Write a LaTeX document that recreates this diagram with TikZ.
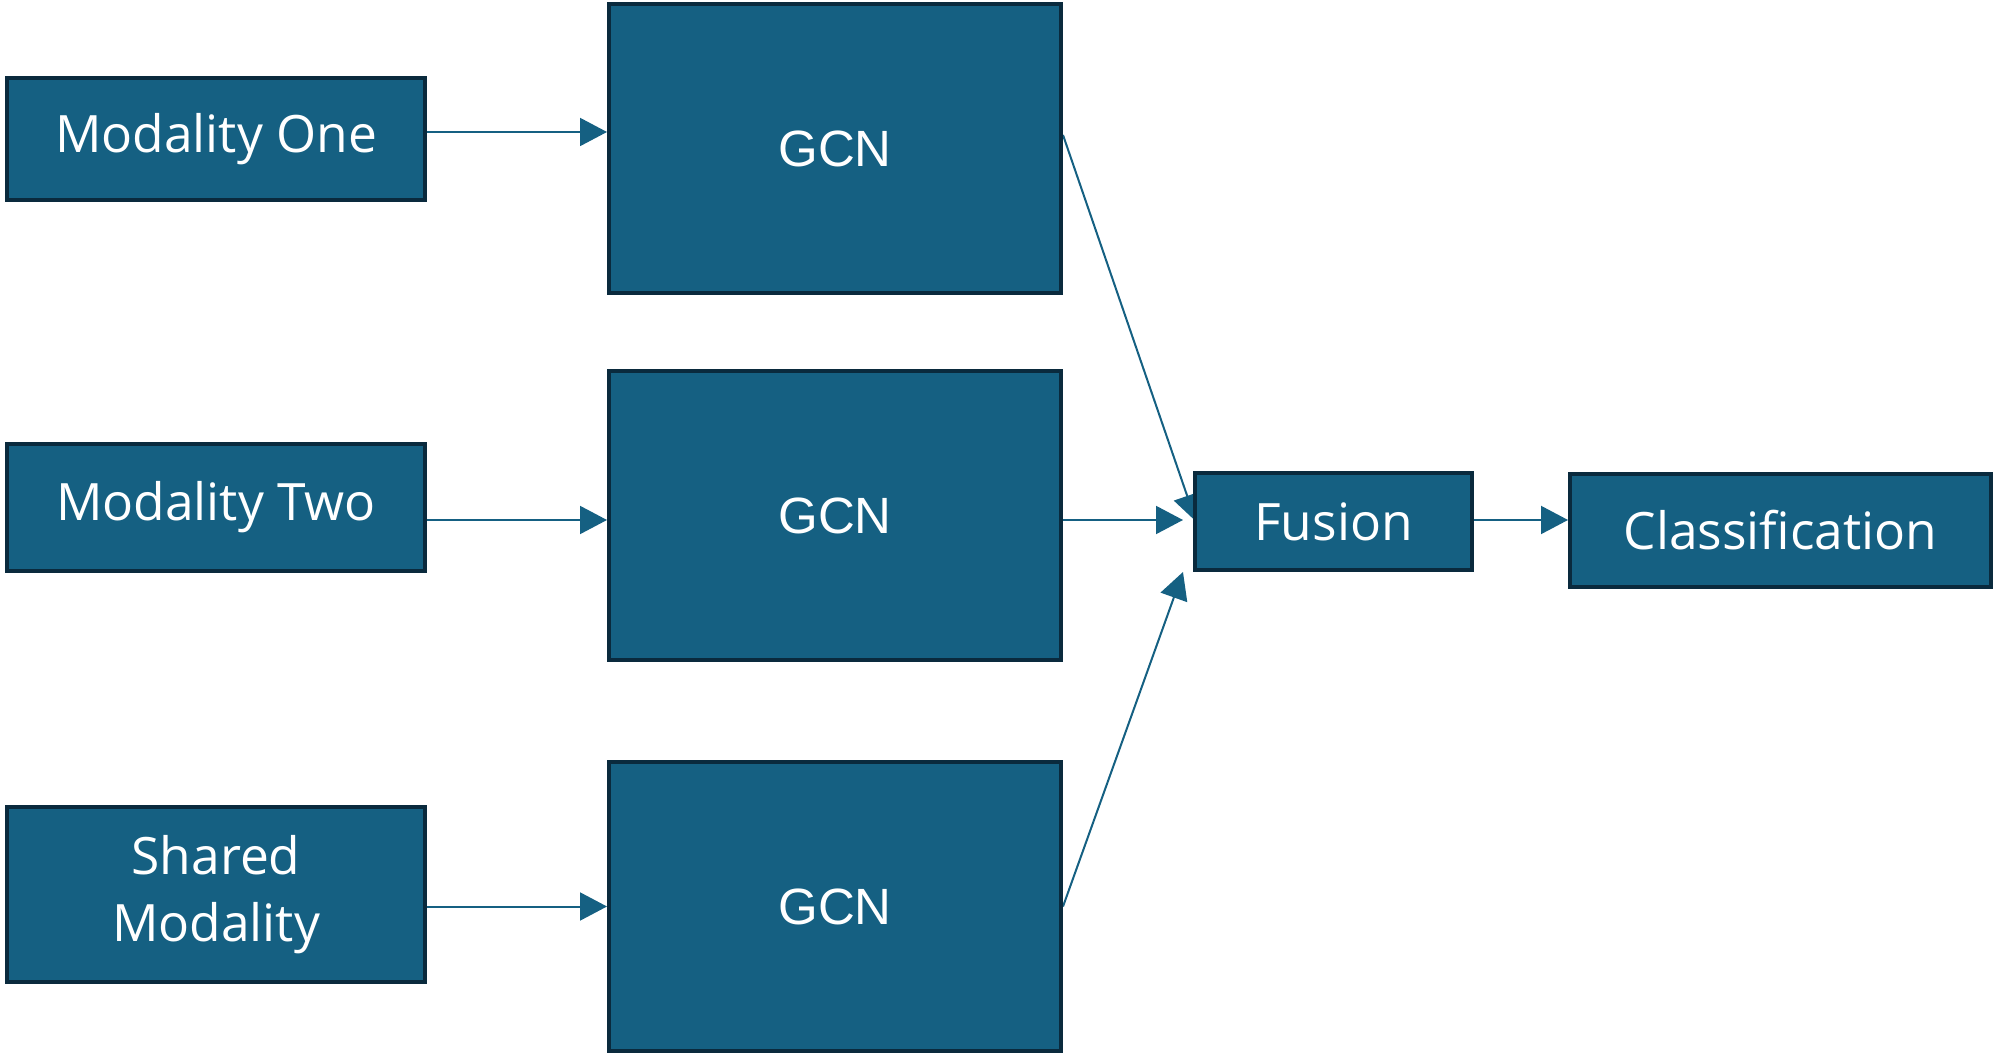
\documentclass[tikz,border=0pt]{standalone}
\usepackage{fontspec}
\setmainfont{Open Sans}
\newfontfamily\gcnfont{Liberation Sans}
\usetikzlibrary{arrows.meta}
\definecolor{boxfill}{HTML}{156082}
\definecolor{boxline}{HTML}{0A2A3D}
\pgfdeclarelayer{bg}
\pgfsetlayers{bg,main}
\tikzset{
  box/.style={draw=boxline, fill=boxfill, line width=2pt, inner sep=0pt,
    text=white, align=center, font=\fontsize{25.75}{33.5}\selectfont},
  gcnbox/.style={box, minimum width=226pt, minimum height=144.5pt,
    font=\gcnfont\fontsize{25.5}{30}\selectfont},
  arr/.style={draw=boxfill, line width=1pt, -{Triangle[length=13.5pt,width=14pt]}}
}
\begin{document}
\begin{tikzpicture}[x=0.5pt,y=-0.5pt]
\useasboundingbox (0,0) rectangle (1998,1058);
% inputs
\node[box, minimum width=209pt, minimum height=61pt] (m1) at (216,139) {Modality One};
\node[box, minimum width=209pt, minimum height=63.5pt] (m2) at (216,507.5) {Modality Two};
\node[box, minimum width=209pt, minimum height=87.5pt] (m3) at (216,894.5) {Shared\\Modality};
% GCNs
\node[gcnbox] (g1) at (835,149) {GCN};
\node[gcnbox] (g2) at (835,515.5) {GCN};
\node[gcnbox] (g3) at (835,906.5) {GCN};
% fusion and classification
\node[box, minimum width=138.5pt, minimum height=48.5pt] (fu) at (1333.5,521.5) {Fusion};
\node[box, minimum width=210.5pt, minimum height=56.5pt] (cl) at (1780.5,530.5) {Classification};
% connectors
\begin{pgfonlayer}{bg}
\draw[arr] ([yshift=3.5pt]m1.east) -- ([yshift=8.5pt]g1.west);
\draw[arr] ([yshift=-6.25pt]m2.east) -- ([yshift=-2.25pt]g2.west);
\draw[arr] ([yshift=-6pt]m3.east) -- (g3.west);
\draw[arr] ([yshift=7pt]g1.east) -- ([xshift=1.5pt]fu.west);
\draw[arr] ([yshift=-2.25pt]g2.east) -- ([xshift=-5pt,yshift=0.75pt]fu.west);
\draw[arr] (g3.east) -- ([xshift=-5pt]fu.south west);
\draw[arr] ([yshift=0.75pt]fu.east) -- ([yshift=5.25pt]cl.west);
\end{pgfonlayer}
\end{tikzpicture}
\end{document}
